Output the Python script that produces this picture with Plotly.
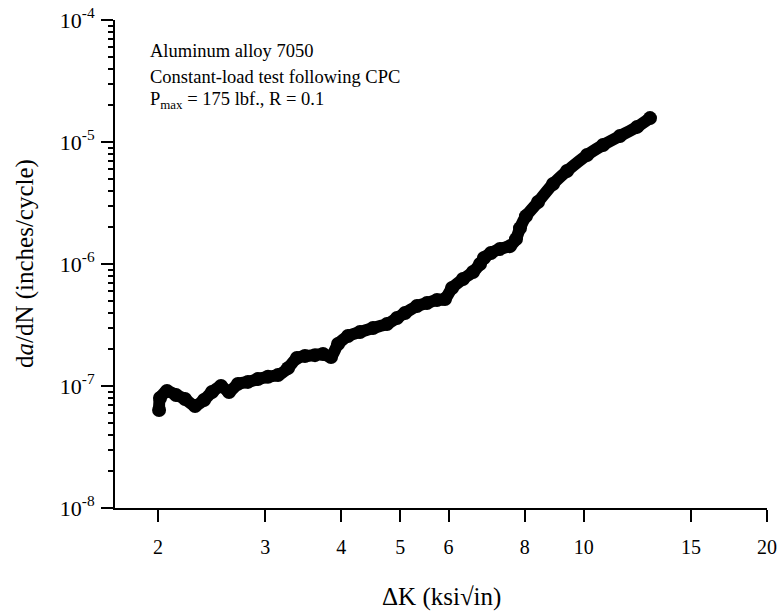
import plotly.graph_objects as go

# Stress-intensity range (ksi*sqrt(in))
delta_k = [2.008, 2.015, 2.069, 2.141, 2.215, 2.301, 2.380, 2.453, 2.538, 2.616,
           2.706, 2.810, 2.918, 3.031, 3.148, 3.269, 3.382, 3.486, 3.621, 3.732,
           3.847, 3.950, 4.102, 4.293, 4.509, 4.754, 4.937, 5.089, 5.325, 5.530,
           5.743, 5.919, 6.078, 6.336, 6.580, 6.757, 6.859, 7.043, 7.287, 7.568,
           7.742, 7.860, 8.040, 8.414, 8.905, 9.389, 10.13, 10.76, 11.47, 12.24,
           12.85]
# Crack growth rate (inches/cycle)
dadn = [6.36e-8, 7.97e-8, 9.10e-8, 8.44e-8, 7.82e-8, 6.86e-8, 7.68e-8, 8.93e-8, 1.00e-7, 8.93e-8,
        1.04e-7, 1.08e-7, 1.14e-7, 1.19e-7, 1.23e-7, 1.40e-7, 1.70e-7, 1.76e-7, 1.79e-7, 1.83e-7,
        1.73e-7, 2.21e-7, 2.57e-7, 2.77e-7, 2.99e-7, 3.22e-7, 3.61e-7, 3.97e-7, 4.53e-7, 4.79e-7,
        5.07e-7, 5.16e-7, 6.36e-7, 7.53e-7, 8.60e-7, 1.00e-6, 1.12e-6, 1.23e-6, 1.33e-6, 1.40e-6,
        1.60e-6, 1.97e-6, 2.47e-6, 3.22e-6, 4.53e-6, 5.79e-6, 7.82e-6, 9.45e-6, 1.12e-5, 1.33e-5,
        1.57e-5]

x_tickvals = [2, 3, 4, 5, 6, 8, 10, 15, 20]
x_ticktext = ["2", "3", "4", "5", "6", "8", "10", "15", "20"]
y_exponents = [-8, -7, -6, -5, -4]
y_tickvals = [10.0 ** e for e in y_exponents]
y_ticktext = ["10<sup>%d</sup>" % e for e in y_exponents]
y_minor = [m * 10.0 ** e for e in y_exponents[:-1] for m in range(2, 10)]

annotation_lines = ["Aluminum alloy 7050",
                    "Constant-load test following CPC",
                    "P<sub>max</sub> = 175 lbf., R = 0.1"]

FONT = "Liberation Serif"

fig = go.Figure()
fig.add_trace(go.Scatter(
    x=delta_k, y=dadn, mode="lines+markers",
    line=dict(color="black", width=12, shape="spline", smoothing=0.6),
    marker=dict(color="black", size=14),
    showlegend=False, hoverinfo="x+y",
))

fig.update_layout(
    width=780, height=613,
    margin=dict(l=115, r=13, t=20, b=105, autoexpand=False),
    paper_bgcolor="white", plot_bgcolor="white",
    font=dict(family=FONT, color="black", size=20),
    showlegend=False,
)

fig.update_xaxes(
    type="log", range=[0.2304, 1.30103], automargin=False,
    tickvals=x_tickvals, ticktext=x_ticktext,
    ticks="outside", ticklen=12, tickwidth=2, tickcolor="black",
    showline=True, linecolor="black", linewidth=2,
    showgrid=False, zeroline=False,
    tickfont=dict(family=FONT, size=20, color="black"),
    ticklabelstandoff=8,
)
fig.update_yaxes(
    type="log", range=[-8, -4], automargin=False,
    tickvals=y_tickvals, ticktext=y_ticktext,
    ticks="outside", ticklen=12, tickwidth=2, tickcolor="black",
    showline=True, linecolor="black", linewidth=2,
    showgrid=False, zeroline=False,
    tickfont=dict(family=FONT, size=22, color="black"),
    ticklabelstandoff=2,
    minor=dict(tickvals=y_minor, ticks="outside", ticklen=5, tickwidth=2,
               tickcolor="black", showgrid=False),
)

line_y = [0.9355, 0.8842, 0.8350]
for txt, yy in zip(annotation_lines, line_y):
    fig.add_annotation(text=txt, xref="paper", yref="paper", x=0.0506, y=yy,
                       xanchor="left", yanchor="middle", showarrow=False,
                       font=dict(family=FONT, size=18.5, color="black"))

fig.add_annotation(text="ΔK (ksi√in)", xref="paper", yref="paper", x=0.5, y=-0.1824,
                   xanchor="center", yanchor="middle", showarrow=False,
                   font=dict(family=FONT, size=25, color="black"))
fig.add_annotation(text="d<i>a</i>/dN (inches/cycle)", xref="paper", yref="paper",
                   x=-0.138, y=0.5, xanchor="center", yanchor="middle",
                   textangle=-90, showarrow=False,
                   font=dict(family=FONT, size=25, color="black"))

fig.write_html("out.html")
